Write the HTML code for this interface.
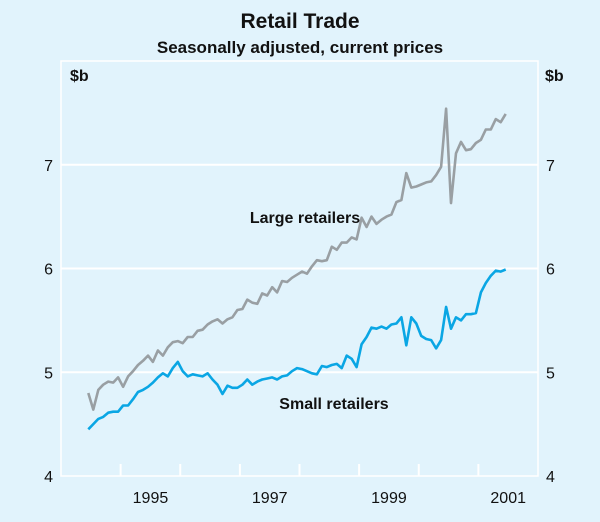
<!DOCTYPE html>
<html><head><meta charset="utf-8"><style>
html,body{margin:0;padding:0;background:#e1f3fc;}
svg{display:block;font-family:"Liberation Sans",Arial,sans-serif;}
</style></head><body>
<svg id="chart" width="600" height="522" viewBox="0 0 600 522">
<rect x="0" y="0" width="600" height="522" fill="#e1f3fc"/>
<text x="300" y="28" text-anchor="middle" font-size="21" font-weight="bold" fill="#111">Retail Trade</text>
<text x="300" y="53" text-anchor="middle" font-size="17" font-weight="bold" fill="#111">Seasonally adjusted, current prices</text>
<rect x="61" y="61" width="477" height="415" fill="none" stroke="#ffffff" stroke-width="1.5"/>
<text x="70" y="81" font-size="16" font-weight="bold" fill="#111">$b</text>
<text x="545" y="81" font-size="16" font-weight="bold" fill="#111">$b</text>
<g id="grid"></g><g id="ticks"></g><g id="lines"></g>
<text x="305" y="223" text-anchor="middle" font-size="16" font-weight="bold" fill="#111">Large retailers</text>
<text x="334" y="409" text-anchor="middle" font-size="16" font-weight="bold" fill="#111">Small retailers</text>
</svg>
<script>
const yTicks=[4,5,6,7];
const yearLabels=[1995,1997,1999,2001];
const yearTicks=[1995,1996,1997,1998,1999,2000,2001];
const startYear=1994, startMonth=5; // June 1994 (0-based month)
const large=[4.80,4.64,4.83,4.88,4.91,4.90,4.95,4.86,4.96,5.01,5.07,5.11,5.16,5.10,5.21,5.16,5.24,5.29,5.30,5.28,5.34,5.34,5.40,5.41,5.46,5.49,5.51,5.47,5.51,5.53,5.60,5.61,5.70,5.67,5.66,5.76,5.74,5.82,5.77,5.88,5.87,5.91,5.94,5.97,5.95,6.02,6.08,6.07,6.08,6.21,6.18,6.25,6.25,6.30,6.28,6.49,6.40,6.50,6.43,6.47,6.50,6.52,6.64,6.66,6.92,6.78,6.79,6.81,6.83,6.84,6.90,6.98,7.54,6.63,7.11,7.22,7.14,7.15,7.21,7.24,7.34,7.34,7.44,7.41,7.49];
const small=[4.45,4.50,4.55,4.57,4.61,4.62,4.62,4.68,4.68,4.74,4.81,4.83,4.86,4.90,4.95,4.99,4.96,5.04,5.10,5.01,4.96,4.98,4.97,4.96,4.99,4.93,4.88,4.79,4.87,4.85,4.85,4.88,4.93,4.88,4.91,4.93,4.94,4.95,4.93,4.96,4.97,5.01,5.04,5.03,5.01,4.99,4.98,5.06,5.05,5.07,5.08,5.04,5.16,5.13,5.05,5.27,5.34,5.43,5.42,5.44,5.42,5.46,5.47,5.53,5.26,5.53,5.47,5.35,5.32,5.31,5.23,5.31,5.63,5.42,5.53,5.50,5.56,5.56,5.57,5.77,5.86,5.93,5.98,5.97,5.99];
const X0=61,X1=538,Y0=476,Y1=61,T0=1994,T1=2002,V0=4,V1=8;
const xs=t=>X0+(t-T0)/(T1-T0)*(X1-X0);
const ys=v=>Y0-(v-V0)/(V1-V0)*(Y0-Y1);
const NS="http://www.w3.org/2000/svg";
function mk(tag,attrs,parent){const e=document.createElementNS(NS,tag);for(const k in attrs)e.setAttribute(k,attrs[k]);parent.appendChild(e);return e;}
const grid=document.getElementById('grid'),ticks=document.getElementById('ticks'),lines=document.getElementById('lines');
yTicks.forEach(v=>{
  if(v>V0){const g=mk('line',{x1:X0,x2:X1,y1:ys(v),y2:ys(v),stroke:'#fff','stroke-width':2},grid);
  
  }
  const l=mk('text',{x:X0-8,y:ys(v)+6,'text-anchor':'end','font-size':16,fill:'#111'},ticks);l.textContent=v;
  
  
  const r=mk('text',{x:X1+8,y:ys(v)+6,'text-anchor':'start','font-size':16,fill:'#111'},ticks);r.textContent=v;
  
  
});
yearTicks.forEach(y=>{
  const t=mk('line',{x1:xs(y),x2:xs(y),y1:Y0,y2:Y0-12,stroke:'#fff','stroke-width':2},ticks);
  
  
});
yearLabels.forEach(y=>{
  const t=mk('text',{x:xs(y+0.5),y:503,'text-anchor':'middle','font-size':16,fill:'#111'},ticks);t.textContent=y;
  
  
});
function path(arr,color,name){
  const d=arr.map((v,i)=>{const t=startYear+(startMonth+i+0.5)/12;return (i?'L':'M')+xs(t).toFixed(1)+','+ys(v).toFixed(1);}).join('');
  const p=mk('path',{d:d,fill:'none',stroke:color,'stroke-width':2.6,'stroke-linejoin':'round'},lines);
  
  
}
path(large,'#999fa3','large-retailers-line');
path(small,'#0aa6e4','small-retailers-line');
</script>
</body></html>
